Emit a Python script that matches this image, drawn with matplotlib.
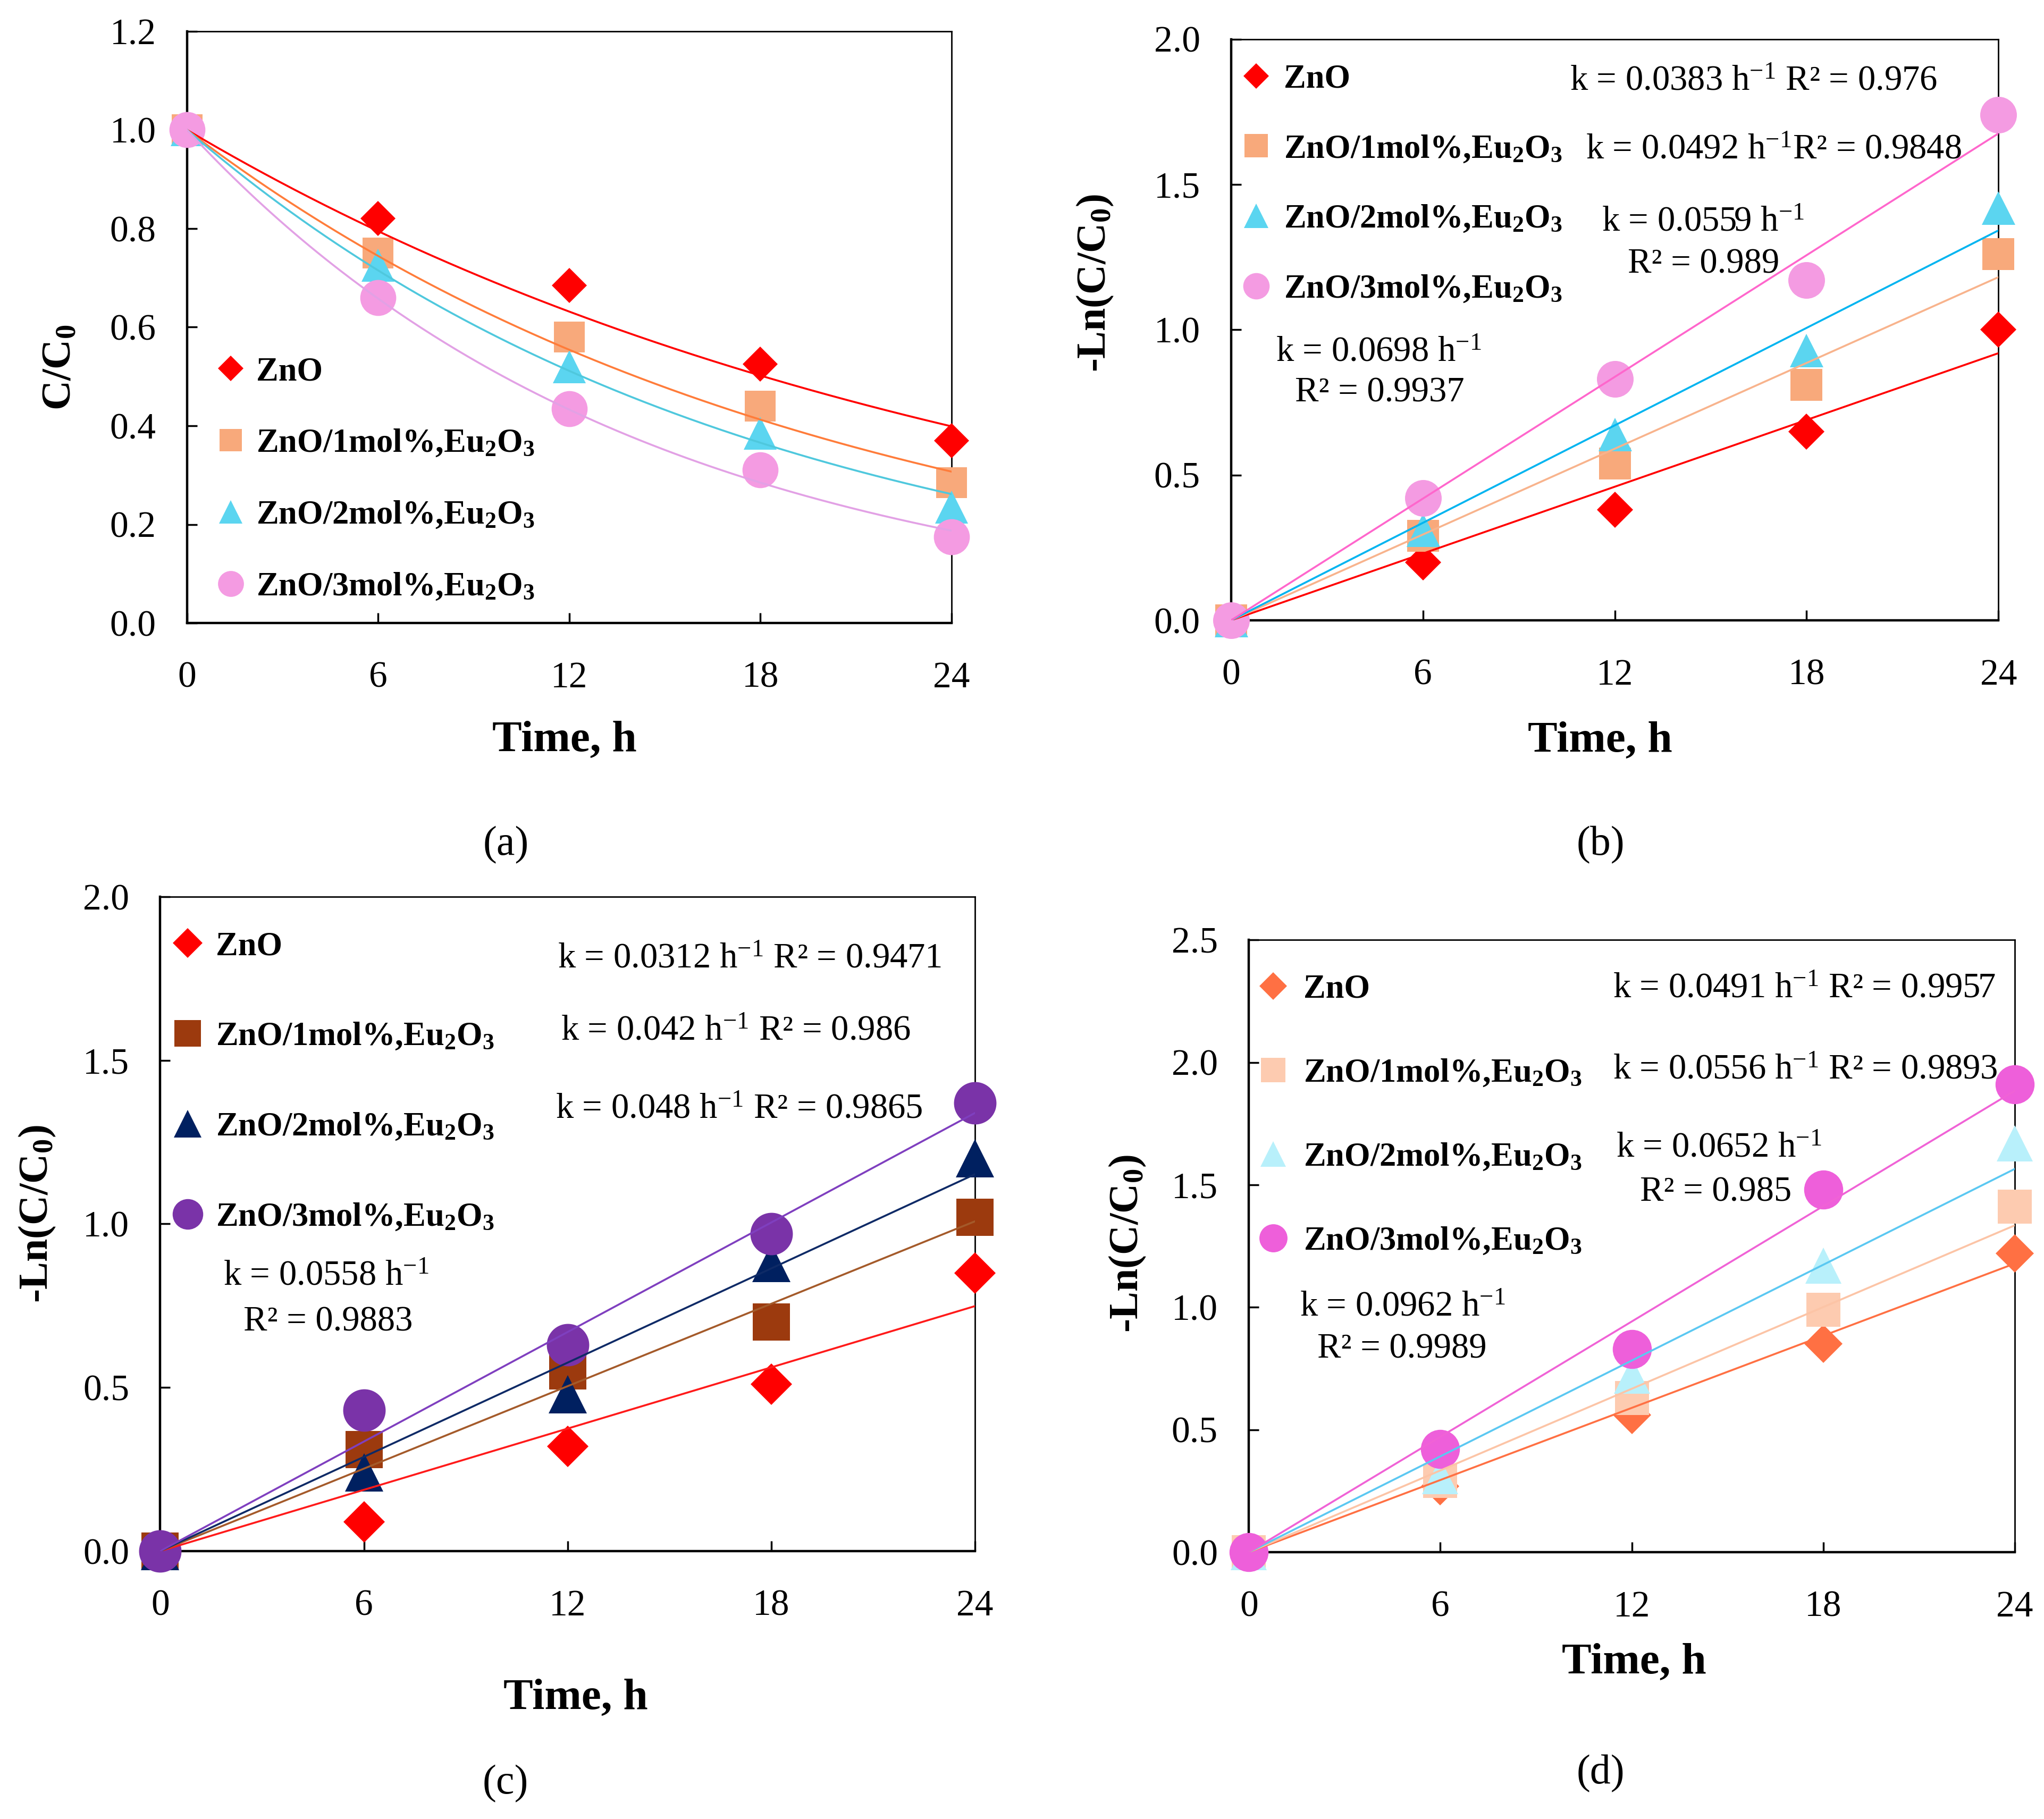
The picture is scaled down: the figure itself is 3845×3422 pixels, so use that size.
import numpy as np
import matplotlib
matplotlib.use('Agg')
import matplotlib.pyplot as plt

plt.rcParams['font.family'] = ['Liberation Serif', 'DejaVu Serif']
plt.rcParams['mathtext.fontset'] = 'custom'
plt.rcParams['mathtext.rm'] = 'Liberation Serif'
plt.rcParams['mathtext.it'] = 'Liberation Serif:italic'
plt.rcParams['mathtext.bf'] = 'Liberation Serif:bold'

# time points (h)
time_h = [0, 6, 12, 18, 24]
sample_labels = ['ZnO',
                 'ZnO/1mol%,Eu$_\\mathbf{2}$O$_\\mathbf{3}$',
                 'ZnO/2mol%,Eu$_\\mathbf{2}$O$_\\mathbf{3}$',
                 'ZnO/3mol%,Eu$_\\mathbf{2}$O$_\\mathbf{3}$']

# (a) C/C0
a_zno = [1.0, 0.82, 0.685, 0.525, 0.37]
a_1mol = [1.0, 0.75, 0.58, 0.44, 0.285]
a_2mol = [1.0, 0.725, 0.52, 0.385, 0.235]
a_3mol = [1.0, 0.66, 0.435, 0.31, 0.175]
k_a = [0.0383, 0.0492, 0.0559, 0.0698]

# (b) -ln(C/C0)
b_zno = [0, 0.20, 0.38, 0.65, 1.00]
b_1mol = [0, 0.29, 0.54, 0.81, 1.26]
b_2mol = [0, 0.31, 0.64, 0.93, 1.42]
b_3mol = [0, 0.42, 0.83, 1.17, 1.74]
slope_b = [0.0383, 0.0492, 0.0559, 0.0698]

# (c) -ln(C/C0)
c_zno = [0, 0.09, 0.32, 0.51, 0.85]
c_1mol = [0, 0.31, 0.55, 0.70, 1.02]
c_2mol = [0, 0.24, 0.48, 0.88, 1.20]
c_3mol = [0, 0.43, 0.63, 0.97, 1.37]
slope_c = [0.0312, 0.042, 0.048, 0.0558]

# (d) -ln(C/C0)
d_zno = [0, 0.27, 0.56, 0.85, 1.22]
d_1mol = [0, 0.29, 0.63, 0.99, 1.41]
d_2mol = [0, 0.31, 0.72, 1.17, 1.67]
d_3mol = [0, 0.42, 0.83, 1.48, 1.91]
slope_d = [0.0491, 0.0556, 0.0652, 0.0785]

# fit annotations: text, x, y (data units)
notes_b = [('k = 0.0383 h$^{-1}$ R² = 0.976', 10.6, 1.855),
           ('k = 0.0492 h$^{-1}$R² = 0.9848', 11.1, 1.62),
           ('k = 0.0559 h$^{-1}$', 11.6, 1.37),
           ('R² = 0.989', 12.4, 1.225),
           ('k = 0.0698 h$^{-1}$', 1.4, 0.923),
           ('R² = 0.9937', 2.0, 0.783)]
notes_c = [('k = 0.0312 h$^{-1}$ R² = 0.9471', 11.7, 1.81),
           ('k = 0.042 h$^{-1}$ R² = 0.986', 11.8, 1.59),
           ('k = 0.048 h$^{-1}$ R² = 0.9865', 11.65, 1.35),
           ('k = 0.0558 h$^{-1}$', 1.85, 0.84),
           ('R² = 0.9883', 2.45, 0.70)]
notes_d = [('k = 0.0491 h$^{-1}$ R² = 0.9957', 11.4, 2.30),
           ('k = 0.0556 h$^{-1}$ R² = 0.9893', 11.4, 1.97),
           ('k = 0.0652 h$^{-1}$', 11.5, 1.65),
           ('R² = 0.985', 12.25, 1.47),
           ('k = 0.0962 h$^{-1}$', 1.6, 1.0),
           ('R² = 0.9989', 2.15, 0.83)]

markers = ['D', 's', '^', 'o']
msizes = [32, 40, 42, 46]

TICK_FS = 50
XLABEL_FS = 60
YLABEL_FS = 56
LEG_FS = 45
NOTE_FS = 48


def style_axes(ax, ymax, ystep):
    ax.set_xlim(0, 24)
    ax.set_ylim(0, ymax)
    ax.set_xticks(time_h)
    ax.set_yticks(np.arange(0, ymax + 1e-9, ystep))
    ax.yaxis.set_major_formatter(matplotlib.ticker.FormatStrFormatter('%.1f'))
    ax.tick_params(direction='in', length=14, width=2.5, labelsize=TICK_FS,
                   top=False, right=False)
    ax.tick_params(axis='x', pad=52)
    ax.tick_params(axis='y', pad=42)
    for side in ['left', 'bottom']:
        ax.spines[side].set_linewidth(3.2)
    for side in ['top', 'right']:
        ax.spines[side].set_linewidth(2.0)


def draw_panel(ax, series, mcolors, lcolors, fit, curve, ymax, ystep,
               ylabel, leg_anchor, leg_space, leg_pad, notes,
               xlab_pos, ylab_pos, mscale):
    t_fit = np.linspace(0, 24, 200)
    for i, ys in enumerate(series):
        ax.plot(time_h, ys, linestyle='none', marker=markers[i],
                markersize=msizes[i] * mscale, color=mcolors[i],
                markeredgewidth=0, label=sample_labels[i], clip_on=False,
                zorder=3 + i)
    for i, k in enumerate(fit):
        if curve:
            ax.plot(t_fit, np.exp(-k * t_fit), color=lcolors[i], lw=2.6, zorder=8)
        else:
            ax.plot([0, 24], [0, k * 24], color=lcolors[i], lw=2.6, zorder=8)
    for txt, x, y in notes:
        ax.text(x, y, txt, fontsize=NOTE_FS, ha='left', va='center', zorder=10)
    style_axes(ax, ymax, ystep)
    ax.legend(loc='upper left', bbox_to_anchor=leg_anchor, frameon=False,
              numpoints=1, markerscale=0.72, handlelength=1.0,
              handletextpad=leg_pad, labelspacing=leg_space, borderpad=0,
              borderaxespad=0, prop={'weight': 'bold', 'size': LEG_FS})
    ax.set_xlabel('Time, h', fontsize=XLABEL_FS, fontweight='bold', va='center')
    ax.xaxis.set_label_coords(*xlab_pos)
    ax.set_ylabel(ylabel, fontsize=YLABEL_FS, fontweight='bold', va='center')
    ax.yaxis.set_label_coords(*ylab_pos)


fig = plt.figure(figsize=(38.45, 34.22), dpi=100)

ax_a = fig.add_axes([0.0915, 0.6575, 0.3740, 0.3253])
ax_b = fig.add_axes([0.6023, 0.6590, 0.3754, 0.3195])
ax_c = fig.add_axes([0.0784, 0.1473, 0.3986, 0.3597])
ax_d = fig.add_axes([0.6110, 0.1467, 0.3747, 0.3366])

draw_panel(ax_a, [a_zno, a_1mol, a_2mol, a_3mol],
           ['#FF0000', '#F8A97B', '#5BD5F0', '#F49BE2'],
           ['#FF0000', '#FF7C3A', '#4FC8DD', '#E2A1E5'],
           k_a, True, 1.2, 0.2, 'C/C$_\\mathbf{0}$',
           (0.0355, 0.45), 1.23, 0.27, [], (0.494, -0.198), (-0.165, 0.432),
           1.06)

draw_panel(ax_b, [b_zno, b_1mol, b_2mol, b_3mol],
           ['#FF0000', '#F8A97B', '#5BD5F0', '#F49BE2'],
           ['#FF0000', '#F8B38C', '#00B4F0', '#FF66CC'],
           slope_b, False, 2.0, 0.5, '-Ln(C/C$_\\mathbf{0}$)',
           (0.011, 0.957), 1.18, 0.33, notes_b, (0.481, -0.207), (-0.177, 0.58),
           1.08)

draw_panel(ax_c, [c_zno, c_1mol, c_2mol, c_3mol],
           ['#FF0000', '#9C3A0E', '#002060', '#7A33A8'],
           ['#FF1A1A', '#A45A2A', '#0E2A66', '#7F3FBF'],
           slope_c, False, 2.0, 0.5, '-Ln(C/C$_\\mathbf{0}$)',
           (0.013, 0.947), 1.79, 0.36, notes_c, (0.51, -0.225), (-0.151, 0.515),
           1.25)

draw_panel(ax_d, [d_zno, d_1mol, d_2mol, d_3mol],
           ['#FF7043', '#FDCBB0', '#B8F0FB', '#EE5FDA'],
           ['#FF7043', '#FCC4A6', '#5BC8F2', '#F062D6'],
           slope_d, False, 2.5, 0.5, '-Ln(C/C$_\\mathbf{0}$)',
           (0.010, 0.944), 1.6, 0.42, notes_d, (0.503, -0.18), (-0.158, 0.504),
           1.15)

for txt, x, y in [('(a)', 0.2474, 0.5355), ('(b)', 0.7832, 0.5355),
                  ('(c)', 0.2474, 0.0194), ('(d)', 0.7832, 0.0251)]:
    fig.text(x, y, txt, fontsize=56, ha='center', va='center')

fig.savefig('out.png', dpi=100, facecolor='white')
